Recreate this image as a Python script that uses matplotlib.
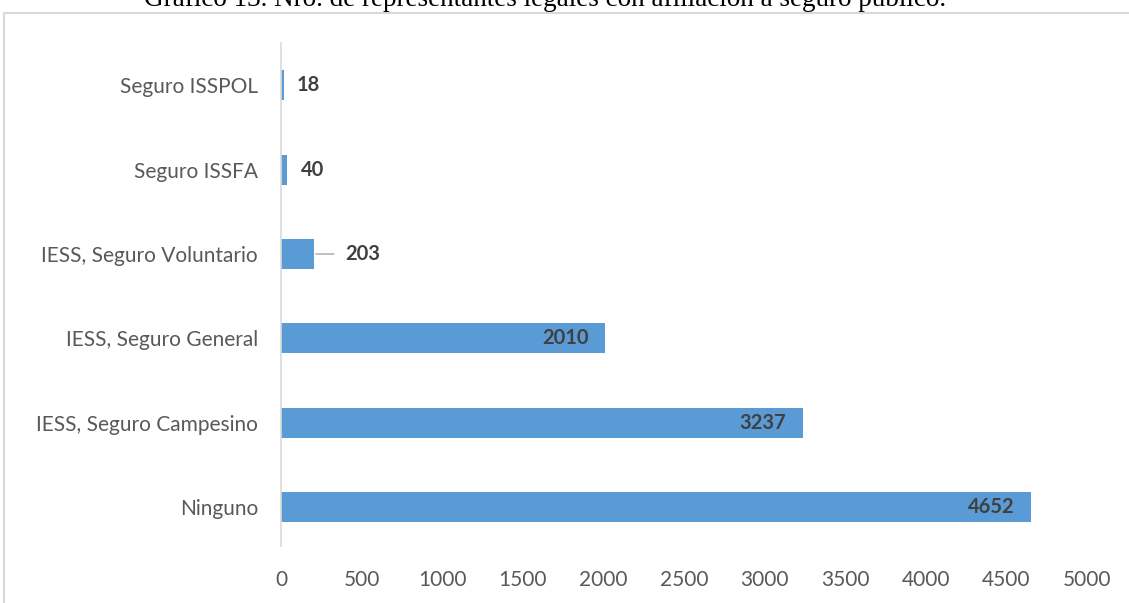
import matplotlib.pyplot as plt
import matplotlib.patches as mpatches

# datos del grafico
categorias = ["Ninguno", "IESS, Seguro Campesino", "IESS, Seguro General",
              "IESS, Seguro Voluntario", "Seguro ISSFA", "Seguro ISSPOL"]
valores = [4652, 3237, 2010, 203, 40, 18]
ticks_x = [0, 500, 1000, 1500, 2000, 2500, 3000, 3500, 4000, 4500, 5000]
titulo = "Gráfico 13. Nro. de representantes legales con afiliación a seguro público."

plt.rcParams['font.family'] = ['Lato', 'DejaVu Sans']

fig = plt.figure(figsize=(11.29, 6.03), dpi=100)
ax = fig.add_axes([281/1129, 1 - 546/603, (1087 - 281)/1129, (546 - 43)/603])

pos = list(range(len(categorias)))
ax.barh(pos, valores, height=0.355, color='#5b9bd5')

ax.set_xlim(0, 5000)
ax.set_ylim(-0.46, 5.5)
ax.set_xticks(ticks_x)
ax.set_xticklabels([str(t) for t in ticks_x])
ax.set_yticks(pos)
ax.set_yticklabels(categorias)
ax.tick_params(axis='both', length=0, labelsize=15, colors='#595959')
ax.tick_params(axis='x', pad=17)
ax.tick_params(axis='y', pad=16.5)

for s in ['top', 'right', 'bottom']:
    ax.spines[s].set_visible(False)
ax.spines['left'].set_color('#d9d9d9')
ax.spines['left'].set_linewidth(1.2)

# etiquetas de valores
for p, v in zip(pos, valores):
    if v > 1000:
        ax.annotate(str(v), (v, p), xytext=(-12, 0), textcoords='offset points',
                    ha='right', va='center', fontsize=14.5, fontweight='bold', color='#404040')
    elif v > 100:
        ax.annotate(str(v), (v, p), xytext=(22.5, 0), textcoords='offset points',
                    ha='left', va='center', fontsize=14.5, fontweight='bold', color='#404040',
                    arrowprops=dict(arrowstyle='-', color='#a6a6a6', lw=1,
                                    shrinkA=6, shrinkB=1.5))
    else:
        ax.annotate(str(v), (v, p), xytext=(9.5, 0), textcoords='offset points',
                    ha='left', va='center', fontsize=14.5, fontweight='bold', color='#404040')

# marco del grafico
marco = mpatches.Rectangle((4/1129, -0.1), 1.2, 1 - 13.5/603 + 0.1, transform=fig.transFigure,
                           fill=False, edgecolor='#d9d9d9', linewidth=1.5)
fig.patches.append(marco)

fig.text(545/1129, 1 - 5.5/603, titulo, ha='center', va='baseline',
         fontsize=19.5, family='Liberation Serif', color='black')

fig.savefig('out.png', dpi=100)
